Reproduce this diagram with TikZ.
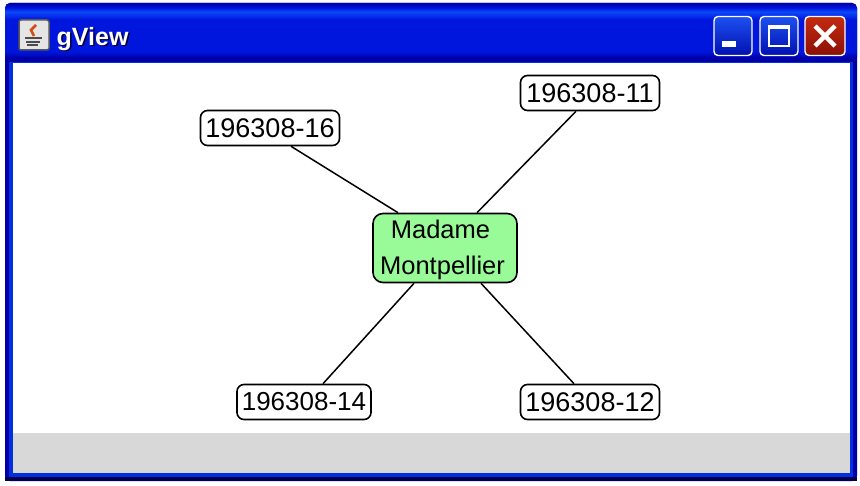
\documentclass[tikz,border=0pt]{standalone}
\usepackage{fontspec}
\setmainfont{Liberation Sans}
\definecolor{tbdark}{HTML}{0000A8}
\definecolor{tbmid}{HTML}{0016DC}
\definecolor{tbhi}{HTML}{0C48FA}
\definecolor{edgeblue}{HTML}{0030E0}
\definecolor{edgedark}{HTML}{00004E}
\definecolor{nodegreen}{HTML}{98FB98}
\definecolor{statusgray}{HTML}{D8D8D8}
\definecolor{closered}{HTML}{C42A10}
\definecolor{closedark}{HTML}{8C1006}
\definecolor{btnlight}{HTML}{1E50F0}
\definecolor{btndark}{HTML}{0010B0}
\definecolor{flame}{HTML}{D84A14}
\pgfdeclareverticalshading{titlebar}{100bp}{
 color(0bp)=(tbdark); color(28.5bp)=(tbdark); color(34bp)=(tbmid); color(61bp)=(tbmid);
 color(67.5bp)=(tbhi); color(71bp)=(tbmid); color(75bp)=(tbdark); color(100bp)=(tbdark)}
\tikzset{
  idbox/.style={draw=black,line width=1.6pt,fill=white,rounded corners=7pt,minimum height=35pt,inner sep=0pt,font=\fontsize{27}{27}\selectfont},
  hublabel/.style={anchor=base,inner sep=0pt,font=\fontsize{25.5}{26}\selectfont},
  hubbox/.style={draw=black,line width=1.6pt,fill=nodegreen,rounded corners=10pt,minimum width=144pt,minimum height=69pt,inner sep=0pt},
  link/.style={draw=black,line width=1.5pt},
  winbtn/.style={draw=white,line width=1.4pt,rounded corners=4pt,minimum width=38pt,minimum height=39pt,inner sep=0pt},
}
\begin{document}
\begin{tikzpicture}[x=1pt,y=-1pt]
\useasboundingbox (0,0) rectangle (860,486);
\fill[white] (0,0) rectangle (860,486);
% frame
\fill[tbdark,rounded corners=5pt] (5,3) rectangle (857,481);
\fill[edgeblue] (9,60) rectangle (853,477);
\fill[edgedark] (5,477) rectangle (857,481);
\shade[shading=titlebar,rounded corners=5pt] (5,3) rectangle (857,62);
% client
\fill[white] (13,63) rectangle (850,433);
\fill[statusgray] (13,433) rectangle (850,473);
% window icon
\node[draw=black!65,line width=1.5pt,fill=black!10,rounded corners=2pt,minimum size=30pt,inner sep=0pt] (appicon) at (34,35) {};
\draw[flame,line width=2.6pt] (36,25) -- (31,30) -- (34,36);
\draw[black!70,line width=2pt] (25,38) -- (42,38) (26,42) -- (40,42) (27,45) -- (38,45);
% title
\node[anchor=base west,inner sep=0pt,text=black!80!blue,font=\fontsize{25}{25}\selectfont\bfseries] (titleshadow) at (58,47) {gView};
\node[anchor=base west,inner sep=0pt,text=white,font=\fontsize{25}{25}\selectfont\bfseries] (title) at (56.5,46) {gView};
% buttons
\node[winbtn,top color=btnlight,bottom color=btndark] (minbtn) at (733,36) {};
\fill[white] (722,41) rectangle (736,47);
\node[winbtn,top color=btnlight,bottom color=btndark] (maxbtn) at (779,36) {};
\draw[white,line width=2pt] (769,26) rectangle (789,46);
\draw[white,line width=3pt] (769,28) -- (789,28);
\node[winbtn,top color=closered,bottom color=closedark,minimum width=40pt] (closebtn) at (825,36) {};
\draw[white,line width=4.5pt] (815,26) -- (835,46) (835,26) -- (815,46);
% graph
\node[hubbox] (hub) at (445,248) {};
\node[hublabel] (hubA) at (440.5,239) {Madame};
\node[hublabel] (hubB) at (442.5,275) {Montpellier};
\node[idbox,minimum width=139pt] (n16) at (270,128) {196308-16};
\node[idbox,minimum width=139pt] (n11) at (590,93) {196308-11};
\node[idbox,minimum width=134pt,font=\fontsize{26}{26}\selectfont] (n14) at (304,402) {196308-14};
\node[idbox,minimum width=139pt] (n12) at (590,402) {196308-12};
\draw[link] ([xshift=21pt]n16.south) -- ([xshift=-47pt]hub.north);
\draw[link] ([xshift=-14pt]n11.south) -- ([xshift=32pt]hub.north);
\draw[link] ([xshift=19pt]n14.north) -- ([xshift=-31pt]hub.south);
\draw[link] ([xshift=-16pt]n12.north) -- ([xshift=36pt]hub.south);
\end{tikzpicture}
\end{document}
